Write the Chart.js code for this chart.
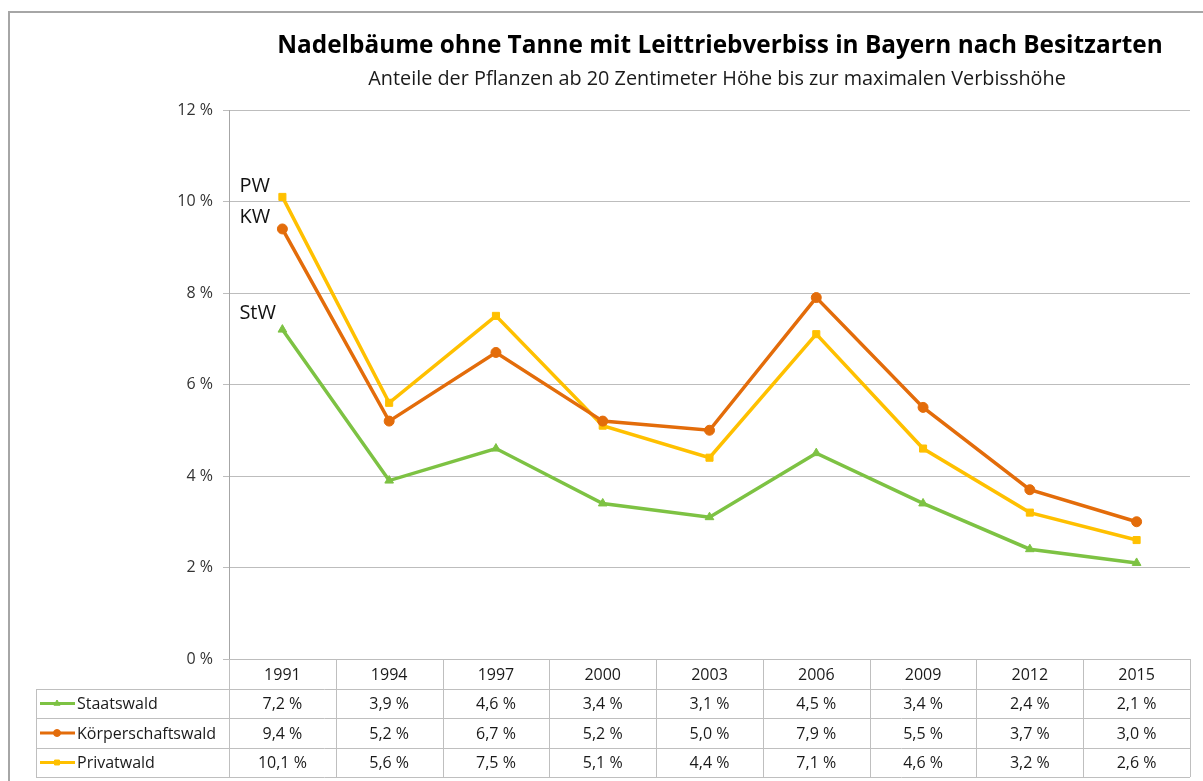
<!DOCTYPE html>
<html><head><meta charset="utf-8">
<script src="https://cdn.jsdelivr.net/npm/chart.js@4/dist/chart.umd.min.js"></script>
<style>html,body{margin:0;padding:0;background:#fff;overflow:hidden}canvas{display:block}</style>
</head><body>
<canvas id="c" width="1203" height="781"></canvas>
<script>
const years = ['1991','1994','1997','2000','2003','2006','2009','2012','2015'];
const staatswald = [7.2, 3.9, 4.6, 3.4, 3.1, 4.5, 3.4, 2.4, 2.1];
const koerperschaftswald = [9.4, 5.2, 6.7, 5.2, 5.0, 7.9, 5.5, 3.7, 3.0];
const privatwald = [10.1, 5.6, 7.5, 5.1, 4.4, 7.1, 4.6, 3.2, 2.6];
const seriesNames = ['Staatswald','Körperschaftswald','Privatwald'];
const seriesShort = ['StW','KW','PW'];
const yTickValues = [0, 2, 4, 6, 8, 10, 12];
const titleText = 'Nadelbäume ohne Tanne mit Leittriebverbiss in Bayern nach Besitzarten';
const subtitleText = 'Anteile der Pflanzen ab 20 Zentimeter Höhe bis zur maximalen Verbisshöhe';

const colors = ['#7dc243', '#e36c0a', '#ffc000'];
const pointStyles = ['triangle', 'circle', 'rect'];
const FONT = '"Open Sans"';

function fmt(v){ return v.toFixed(1).replace('.', ',') + ' %'; }

const deco = {
  id: 'deco',
  afterDraw(chart){
    const ctx = chart.ctx;
    const area = chart.chartArea;
    const xs = chart.scales.x;
    ctx.save();
    // outer border
    ctx.strokeStyle = '#a6a6a6';
    ctx.lineWidth = 2;
    ctx.strokeRect(9, 12, 1203, 790);

    // title
    ctx.fillStyle = '#000';
    ctx.textAlign = 'center';
    ctx.textBaseline = 'middle';
    let fs = 24;
    ctx.font = 'bold ' + fs + 'px ' + FONT;
    fs = fs * 886 / ctx.measureText(titleText).width;
    ctx.font = 'bold ' + fs.toFixed(2) + 'px ' + FONT;
    ctx.fillText(titleText, 720, 46);
    fs = 18;
    ctx.font = fs + 'px ' + FONT;
    fs = fs * 698 / ctx.measureText(subtitleText).width;
    ctx.font = fs.toFixed(2) + 'px ' + FONT;
    ctx.fillStyle = '#1a1a1a';
    ctx.fillText(subtitleText, 717, 79);

    // short labels near first points
    const offs = [[-43, -16], [-43, -12], [-43, -11]];
    ctx.font = '20px ' + FONT;
    ctx.textAlign = 'left';
    ctx.fillStyle = '#111';
    for (let i = 0; i < 3; i++) {
      const p = chart.getDatasetMeta(i).data[0];
      ctx.fillText(seriesShort[i], p.x + offs[i][0], p.y + offs[i][1]);
    }

    // data table
    const colW = (area.right - area.left) / years.length;
    const rowsY = [area.bottom, area.bottom + 30, area.bottom + 59, area.bottom + 89, area.bottom + 118];
    const legendLeft = 36;
    ctx.strokeStyle = '#bfbfbf';
    ctx.lineWidth = 1;
    ctx.beginPath();
    for (let r = 1; r < rowsY.length; r++) {
      const y = Math.round(rowsY[r]) + 0.5;
      ctx.moveTo(legendLeft, y); ctx.lineTo(area.right, y);
    }
    for (let c = 0; c <= years.length; c++) {
      const x = Math.round(area.left + c * colW) + 0.5;
      ctx.moveTo(x, rowsY[0]); ctx.lineTo(x, rowsY[4]);
    }
    ctx.moveTo(legendLeft + 0.5, rowsY[1]); ctx.lineTo(legendLeft + 0.5, rowsY[4]);
    ctx.stroke();

    ctx.font = '16px ' + FONT;
    ctx.fillStyle = '#1a1a1a';
    ctx.textAlign = 'center';
    ctx.textBaseline = 'middle';
    const data = [staatswald, koerperschaftswald, privatwald];
    for (let c = 0; c < years.length; c++) {
      const x = xs.getPixelForValue(c);
      ctx.fillText(years[c], x, (rowsY[0] + rowsY[1]) / 2 + 1);
      for (let r = 0; r < 3; r++) {
        ctx.fillText(fmt(data[r][c]), x, (rowsY[r + 1] + rowsY[r + 2]) / 2 + 1);
      }
    }
    // legend keys
    for (let r = 0; r < 3; r++) {
      const y = (rowsY[r + 1] + rowsY[r + 2]) / 2;
      ctx.strokeStyle = colors[r];
      ctx.lineWidth = 3;
      ctx.beginPath(); ctx.moveTo(40, y); ctx.lineTo(75, y); ctx.stroke();
      ctx.fillStyle = colors[r];
      ctx.lineWidth = 1;
      Chart.helpers.drawPoint(ctx, {pointStyle: pointStyles[r], radius: 3.5, rotation: 0, borderWidth: 1}, 57, y);
      ctx.fillStyle = '#1a1a1a';
      ctx.textAlign = 'left';
      ctx.fillText(seriesNames[r], 77, y + 1);
    }
    ctx.restore();
  }
};

new Chart(document.getElementById('c'), {
  type: 'line',
  data: {
    labels: years,
    datasets: [staatswald, koerperschaftswald, privatwald].map((d, i) => ({
      label: seriesNames[i],
      data: d,
      borderColor: colors[i],
      backgroundColor: colors[i],
      borderWidth: 3.5,
      pointStyle: pointStyles[i],
      pointRadius: 5,
      pointBorderWidth: 1,
      tension: 0,
      fill: false
    }))
  },
  options: {
    responsive: false,
    animation: false,
    layout: { padding: { left: 0, right: 13, top: 110, bottom: 122 } },
    plugins: { legend: { display: false }, tooltip: { enabled: false }, title: { display: false } },
    scales: {
      x: {
        type: 'category',
        offset: true,
        ticks: { display: false },
        grid: { display: false },
        border: { display: false },
        afterFit: s => { s.height = 0; }
      },
      y: {
        min: 0, max: 12,
        afterBuildTicks: s => { s.ticks = yTickValues.map(v => ({ value: v })); },
        ticks: { callback: v => v + ' %', color: '#333', font: { family: 'Open Sans', size: 16 }, padding: 10 },
        grid: { color: '#bdbdbd', lineWidth: 1, tickLength: 6 },
        border: { color: '#a6a6a6', width: 1 },
        afterFit: s => { s.width = 229; }
      }
    }
  },
  plugins: [deco]
});
</script>
</body></html>
